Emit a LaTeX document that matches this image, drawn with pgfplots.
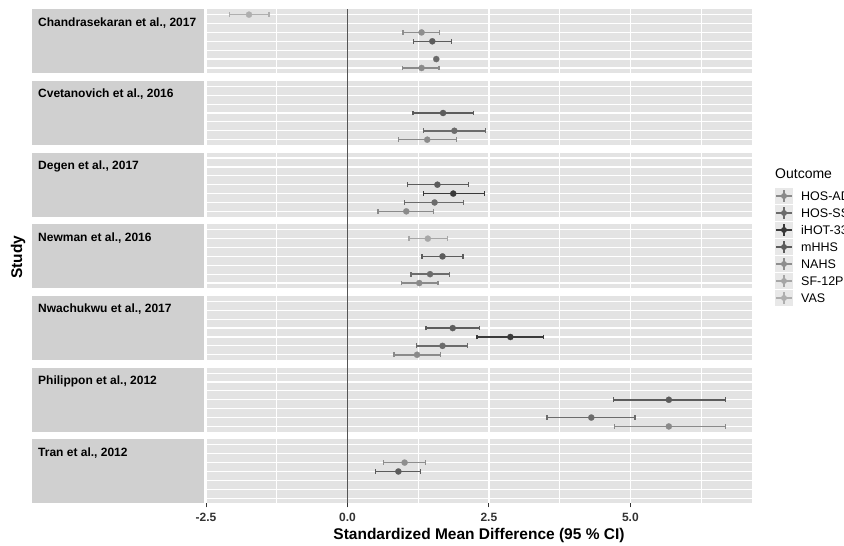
\documentclass[border=0pt]{standalone}
\usepackage{fontspec}
\setmainfont{Liberation Sans}
\usepackage{pgfplots}
\pgfplotsset{compat=1.18}
\usepgfplotslibrary{groupplots}
\usetikzlibrary{calc}

\definecolor{cADL}{HTML}{8A8A8A}
\definecolor{cSSS}{HTML}{6B6B6B}
\definecolor{cIHOT}{HTML}{3A3A3A}
\definecolor{cMHHS}{HTML}{5C5C5C}
\definecolor{cNAHS}{HTML}{8E8E8E}
\definecolor{cSF}{HTML}{A6A6A6}
\definecolor{cVAS}{HTML}{AFAFAF}
\definecolor{panelbg}{HTML}{E3E3E3}
\definecolor{stripbg}{HTML}{D0D0D0}
\definecolor{keybg}{HTML}{E8E8E8}
\definecolor{zerocol}{HTML}{555555}
\definecolor{tickcol}{HTML}{333333}

\pgfplotsset{
  ci/.style={color=#1, only marks, mark=*, mark size=3.1pt,
    mark options={fill=#1, draw=#1, line width=0.2pt},
    error bars/.cd, x dir=both, x explicit, error mark=|,
    error bar style={line width=1.6pt, color=#1},
    error mark options={line width=1.4pt, mark size=2.4pt, color=#1}},
  cipt/.style={color=#1, only marks, mark=*, mark size=3.1pt,
    mark options={fill=#1, draw=#1, line width=0.2pt}},
  zl/.style={draw=zerocol, line width=1.6pt, no marks, forget plot},
}

\newcommand\strip[1]{%
  \fill[stripbg] (axis description cs:-0.31868,0) rectangle (axis description cs:-0.00366,1);
  \node[anchor=north west, inner sep=0pt, yshift=-8pt, font=\bfseries\fontsize{12}{13}\selectfont]
    at (axis description cs:-0.3077,1) {#1};}

\begin{document}
\begin{tikzpicture}
\begin{groupplot}[
  group style={group size=1 by 7, vertical sep=7.7pt},
  width=546pt, height=64pt, scale only axis,
  xmin=-2.5, xmax=7.15, ymin=0.4, ymax=7.6,
  clip=false,
  axis background/.style={fill=panelbg},
  axis line style={draw=none},
  xtick={-2.5,0,2.5,5}, minor xtick={-1.25,1.25,3.75,6.25},
  ytick={1,2,3,4,5,6,7}, yticklabels={}, xticklabels={},
  xmajorgrids, xminorgrids, ymajorgrids,
  major grid style={white, line width=1.2pt},
  minor grid style={white, line width=0.7pt},
  ytick style={draw=none}, xtick style={draw=none},
  minor tick length=0pt,
  tick align=outside, xtick pos=left, major tick length=4pt,
]
% y: 1 HOS-ADL, 2 HOS-SSS, 3 iHOT-33, 4 mHHS, 5 NAHS, 6 SF-12P, 7 VAS
\nextgroupplot
\coordinate (tl) at (rel axis cs:0,1);
\strip{Chandrasekaran et al., 2017}
\addplot[zl] coordinates {(0,-0.04) (0,7.6)};
\addplot[ci=cVAS]  coordinates {(-1.74,7) += (0.35,0) -= (0.34,0)};
\addplot[ci=cNAHS] coordinates {(1.31,5) += (0.32,0) -= (0.33,0)};
\addplot[ci=cMHHS] coordinates {(1.50,4) += (0.34,0) -= (0.33,0)};
\addplot[cipt=cSSS] coordinates {(1.57,2)};
\addplot[ci=cADL]  coordinates {(1.31,1) += (0.31,0) -= (0.34,0)};

\nextgroupplot
\strip{Cvetanovich et al., 2016}
\addplot[zl] coordinates {(0,-0.04) (0,8.04)};
\addplot[ci=cMHHS] coordinates {(1.69,4) += (0.54,0) -= (0.53,0)};
\addplot[ci=cSSS]  coordinates {(1.89,2) += (0.55,0) -= (0.55,0)};
\addplot[ci=cADL]  coordinates {(1.41,1) += (0.52,0) -= (0.51,0)};

\nextgroupplot
\strip{Degen et al., 2017}
\addplot[zl] coordinates {(0,-0.04) (0,8.04)};
\addplot[ci=cMHHS] coordinates {(1.59,4) += (0.55,0) -= (0.53,0)};
\addplot[ci=cIHOT] coordinates {(1.87,3) += (0.55,0) -= (0.53,0)};
\addplot[ci=cSSS]  coordinates {(1.54,2) += (0.51,0) -= (0.53,0)};
\addplot[ci=cADL]  coordinates {(1.04,1) += (0.48,0) -= (0.50,0)};

\nextgroupplot
\strip{Newman et al., 2016}
\addplot[zl] coordinates {(0,-0.04) (0,8.04)};
\addplot[ci=cSF]   coordinates {(1.42,6) += (0.35,0) -= (0.33,0)};
\addplot[ci=cMHHS] coordinates {(1.68,4) += (0.36,0) -= (0.36,0)};
\addplot[ci=cSSS]  coordinates {(1.46,2) += (0.34,0) -= (0.34,0)};
\addplot[ci=cADL]  coordinates {(1.27,1) += (0.33,0) -= (0.32,0)};

\nextgroupplot
\strip{Nwachukwu et al., 2017}
\addplot[zl] coordinates {(0,-0.04) (0,8.04)};
\addplot[ci=cMHHS] coordinates {(1.86,4) += (0.47,0) -= (0.47,0)};
\addplot[ci=cIHOT] coordinates {(2.88,3) += (0.58,0) -= (0.59,0)};
\addplot[ci=cSSS]  coordinates {(1.68,2) += (0.44,0) -= (0.46,0)};
\addplot[ci=cADL]  coordinates {(1.23,1) += (0.41,0) -= (0.41,0)};

\nextgroupplot
\strip{Philippon et al., 2012}
\addplot[zl] coordinates {(0,-0.04) (0,8.04)};
\addplot[ci=cMHHS] coordinates {(5.68,4) += (1.00,0) -= (0.98,0)};
\addplot[ci=cSSS]  coordinates {(4.31,2) += (0.77,0) -= (0.78,0)};
\addplot[ci=cADL]  coordinates {(5.68,1) += (1.00,0) -= (0.96,0)};

\nextgroupplot[
  xtick style={draw=tickcol, line width=0.9pt},
  xticklabels={\textbf{-2.5},\textbf{0.0},\textbf{2.5},\textbf{5.0}},
  xticklabel style={font=\fontsize{12}{12}\selectfont, text=tickcol, yshift=-2pt},
  xlabel={Standardized Mean Difference (95 \% CI)},
  xlabel style={at={(axis description cs:0.5,0)}, anchor=center, yshift=-31.7pt,
    font=\bfseries\fontsize{15.5}{16}\selectfont},
]
\coordinate (br) at (rel axis cs:1,0);
\strip{Tran et al., 2012}
\addplot[zl] coordinates {(0,0.4) (0,8.04)};
\addplot[ci=cNAHS] coordinates {(1.01,5) += (0.37,0) -= (0.37,0)};
\addplot[ci=cMHHS] coordinates {(0.90,4) += (0.39,0) -= (0.40,0)};
\end{groupplot}

\coordinate (O) at ($(tl)+(-206pt,9.3pt)$);
\path[use as bounding box] (O) rectangle ($(O)+(844pt,-545pt)$);
\begin{scope}[shift={(O)}, x=1pt, y=1pt]
  \node[rotate=90, font=\bfseries\fontsize{15.5}{16}\selectfont] at (18,-257) {Study};
  \node[anchor=west, inner sep=0pt, font=\fontsize{14}{15}\selectfont] at (775,-174) {Outcome};
  \foreach \c/\t [count=\i from 0] in {cADL/HOS-ADL, cSSS/HOS-SSS, cIHOT/iHOT-33, cMHHS/mHHS, cNAHS/NAHS, cSF/SF-12P, cVAS/VAS}{
    \pgfmathsetmacro\yc{196+17*\i}
    \fill[keybg] (775,-\yc+8) rectangle (793,-\yc-8);
    \draw[\c, line width=1.3pt] (776,-\yc) -- (792,-\yc);
    \draw[\c, line width=1.3pt] (784,-\yc+6) -- (784,-\yc-6);
    \fill[\c] (784,-\yc) circle (3);
    \node[anchor=west, inner sep=0pt, font=\fontsize{12.5}{13}\selectfont] at (801,-\yc) {\t};
  }
\end{scope}
\end{tikzpicture}
\end{document}
